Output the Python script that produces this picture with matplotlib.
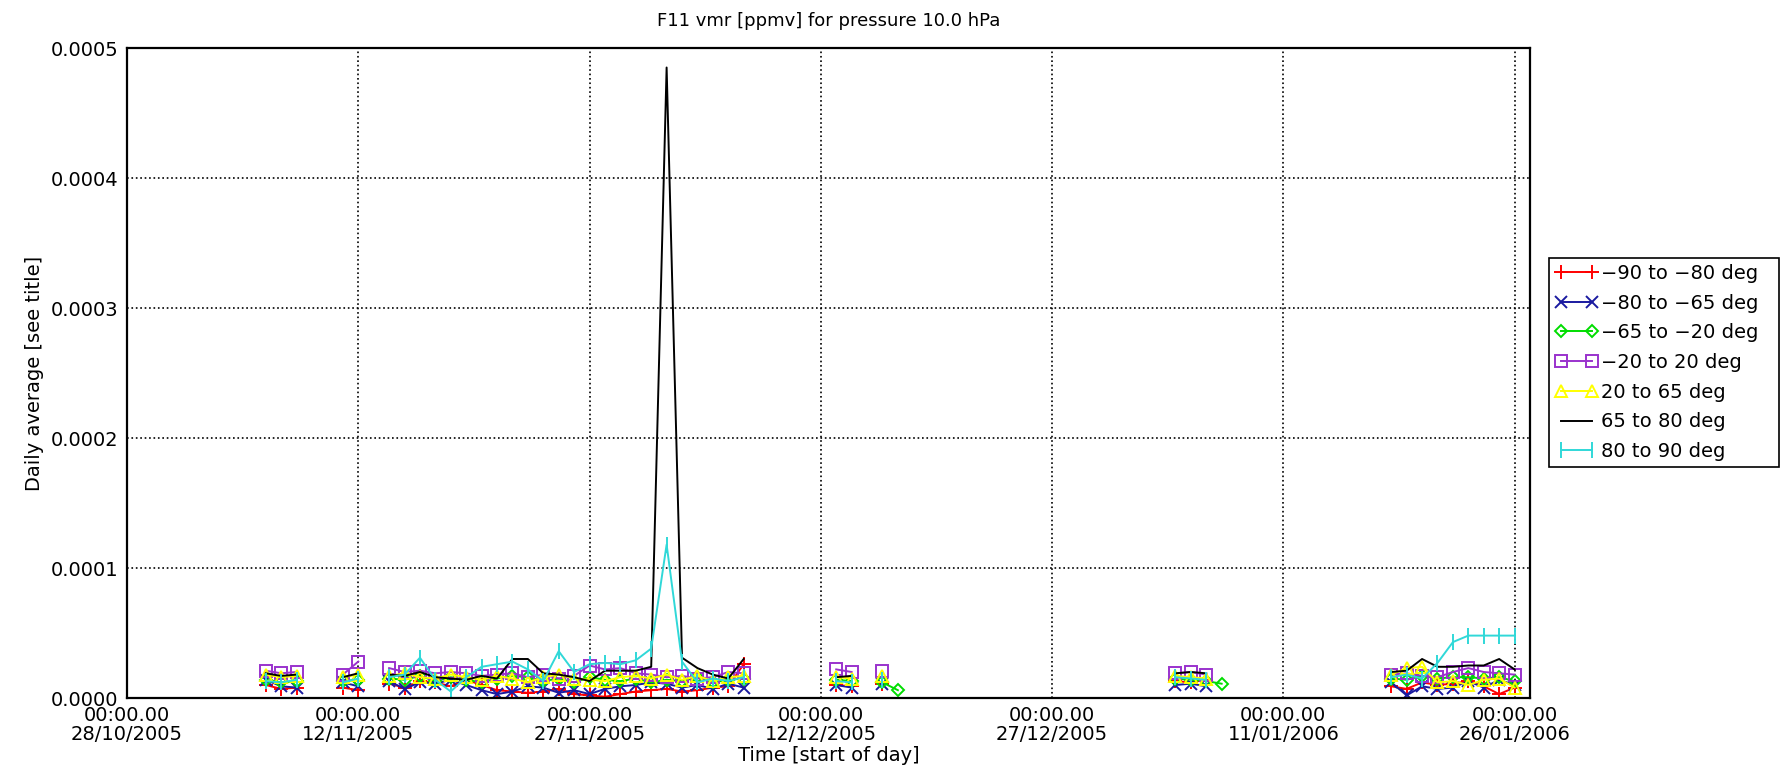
import datetime as dt

import matplotlib
matplotlib.use('Agg')
import matplotlib.pyplot as plt
import matplotlib.dates as mdates
from matplotlib.ticker import FormatStrFormatter
import numpy as np


# data: day offsets from 28/10/2005, daily averages in units of 1e-5 ppmv
start = dt.datetime(2005, 10, 28)
days = [9, 10, 11,
        14, 15,
        17, 18, 19, 20, 21, 22, 23, 24, 25, 26, 27, 28, 29, 30, 31, 32, 33, 34,
        35, 36, 37, 38, 39, 40,
        46, 47, 49, 50,
        68, 69, 70, 71,
        82, 83, 84, 85, 86, 87, 88, 89, 90]

lat_90_80s = [1.0, 0.7, 0.8,
              0.8, 0.6,
              1.1, 0.8, 1.3, 1.2, 0.9, 1.4, 1.0, 0.6, 0.5, 0.4, 0.5, 0.7, 0.3, 0.2,
              0.1, 0.3, 0.5, 0.6, 0.7, 0.5, 0.6, 0.8, 0.9, 2.6,
              1.0, 0.9, 1.1, None,
              1.3, 1.2, 1.4, None,
              0.9, 0.7, 1.2, 1.0, 1.1, 1.3, 0.9, 0.3, 0.8]
lat_80_65s = [1.4, 0.9, 0.8,
              1.2, 0.9,
              1.3, 0.7, 1.2, 1.1, 1.4, 1.0, 0.6, 0.3, 0.5, 0.9, 0.8, 0.4, 0.6, 0.3,
              0.7, 0.9, 1.0, 1.2, 1.1, 0.8, 1.0, 0.7, 1.1, 0.8,
              1.0, 0.8, 1.1, None,
              1.0, 1.1, 0.9, None,
              1.2, 0.2, 0.9, 0.7, 0.8, 1.3, 0.8, 1.4, 1.0]
lat_65_20s = [1.4, 1.2, 1.3,
              1.3, 1.4,
              1.5, 1.4, 1.7, 1.3, 1.6, 1.4, 1.2, 1.5, 1.7, 1.6, 1.3, 1.5, 1.2, 1.6,
              1.4, 1.3, 1.5, 1.2, 1.4, 1.3, 1.6, 1.2, 1.4, 1.5,
              1.4, 1.3, 1.2, 0.6,
              1.5, 1.4, 1.3, 1.1,
              1.5, 1.4, 1.7, 1.5, 1.6, 1.6, 1.5, 1.6, 1.3]
lat_20s_20n = [2.1, 1.9, 2.0,
               1.8, 2.8,
               2.3, 2.0, 2.1, 1.9, 2.0, 1.9, 1.7, 1.8, 1.9, 1.6, 1.8, 1.5, 1.7, 2.5,
               2.2, 2.3, 1.9, 1.8, 1.6, 1.7, 1.5, 1.6, 2.0, 1.9,
               2.2, 2.0, 2.1, None,
               1.9, 2.0, 1.8, None,
               1.8, 1.9, 1.7, 1.6, 2.0, 2.3, 2.0, 1.9, 1.8]
lat_20_65n = [1.8, 1.6, 1.7,
              1.6, 1.8,
              1.7, 1.9, 1.6, 1.5, 1.8, 1.6, 1.4, 1.7, 1.5, 1.2, 1.6, 1.8, 1.5, 1.4,
              1.3, 1.6, 1.7, 1.5, 1.8, 1.4, 1.7, 1.3, 1.6, 1.7,
              1.6, 1.5, 1.7, None,
              1.7, 1.6, 1.5, None,
              1.8, 2.3, 2.4, 1.2, 1.3, 1.0, 1.4, 1.5, 0.8]
lat_65_80n = [1.9, 1.7, 1.8,
              1.6, 1.9,
              1.8, 1.7, 2.0, 1.6, 1.5, 1.4, 1.7, 1.5, 3.0, 3.0, 1.9, 1.8, 1.6, 1.3,
              2.1, 2.1, 2.1, 2.4, 48.5, 3.1, 2.3, 1.8, 1.5, 3.0,
              1.6, 1.7, 1.7, None,
              1.9, 2.0, 1.9, None,
              2.0, 2.1, 3.0, 2.4, 2.4, 2.5, 2.5, 3.0, 2.2]
lat_80_90n = [1.3, 1.2, 1.4,
              1.2, 1.5,
              1.6, 1.8, 3.1, 1.4, 0.5, 1.6, 2.4, 2.6, 2.8, 2.2, 1.3, 3.6, 2.0, 2.6,
              2.7, 2.6, 2.9, 3.8, 11.8, 2.8, 1.2, 1.5, 1.3, 1.6,
              1.3, 1.2, 1.4, None,
              1.6, 1.5, 1.4, None,
              1.6, 1.8, 1.5, 2.7, 4.3, 4.8, 4.8, 4.8, 4.8]

labels = ['\u221290 to \u221280 deg', '\u221280 to \u221265 deg',
          '\u221265 to \u221220 deg', '\u221220 to 20 deg',
          '20 to 65 deg', '65 to 80 deg', '80 to 90 deg']
tick_days = [0, 15, 30, 45, 60, 75, 90]

series = [lat_90_80s, lat_80_65s, lat_65_20s, lat_20s_20n,
          lat_20_65n, lat_65_80n, lat_80_90n]
styles = [
    dict(color='#ff0000', marker='+', ms=10),
    dict(color='#1a1aa0', marker='x', ms=8),
    dict(color='#00dd00', marker='D', ms=6, mfc='none'),
    dict(color='#9a32cd', marker='s', ms=8, mfc='none'),
    dict(color='#ffff00', marker='^', ms=8, mfc='none'),
    dict(color='black', marker=None),
    dict(color='#30d8d8', marker='|', ms=11),
]

plt.rcParams['font.family'] = ['DejaVu Sans']

fig = plt.figure(figsize=(17.82, 7.83), dpi=100, facecolor='white')
ax = fig.add_axes([127 / 1782, 1 - 698 / 783, (1530 - 127) / 1782, (698 - 48) / 783])

# break the lines where days are missing
xnum = np.array([mdates.date2num(start + dt.timedelta(days=d)) for d in days])
gaps = np.where(np.diff(days) > 1)[0] + 1
xs = np.insert(xnum, gaps, np.nan)

for vals, lab, st in zip(series, labels, styles):
    ys = np.insert(np.array(vals, dtype=float) * 1e-5, gaps, np.nan)
    ax.plot(xs, ys, lw=1.4, mew=1.4, label=lab, **st)

ax.set_xlim(mdates.date2num(start), mdates.date2num(start + dt.timedelta(days=91)))
ax.set_ylim(0, 0.0005)
ax.set_xticks([mdates.date2num(start + dt.timedelta(days=d)) for d in tick_days])
ax.xaxis.set_major_formatter(mdates.DateFormatter('%H:%M.00\n%d/%m/%Y'))
ax.set_yticks(np.arange(0, 0.00051, 0.0001))
ax.yaxis.set_major_formatter(FormatStrFormatter('%.4f'))
ax.tick_params(length=0, labelsize=14, pad=6)
for t in ax.get_xticklabels():
    t.set_linespacing(0.95)
ax.grid(True, ls=':', color='black', lw=1.2)
for sp in ax.spines.values():
    sp.set_linewidth(1.6)

ax.set_title('F11 vmr [ppmv] for pressure 10.0 hPa', fontsize=13, pad=16)
ax.set_xlabel('Time [start of day]', fontsize=14, labelpad=2)
ax.set_ylabel('Daily average [see title]', fontsize=14, labelpad=5)

leg = fig.legend(loc='upper left',
                 bbox_to_anchor=(1549 / 1782, 0, 230 / 1782, 1 - 258 / 783),
                 mode='expand',
                 fontsize=14, numpoints=2, handlelength=2.2, handletextpad=0.15,
                 borderpad=0.3, borderaxespad=0, labelspacing=0.55,
                 fancybox=False, framealpha=1, edgecolor='black')
leg.get_frame().set_linewidth(1.2)

plt.savefig('out.png', dpi=100)
